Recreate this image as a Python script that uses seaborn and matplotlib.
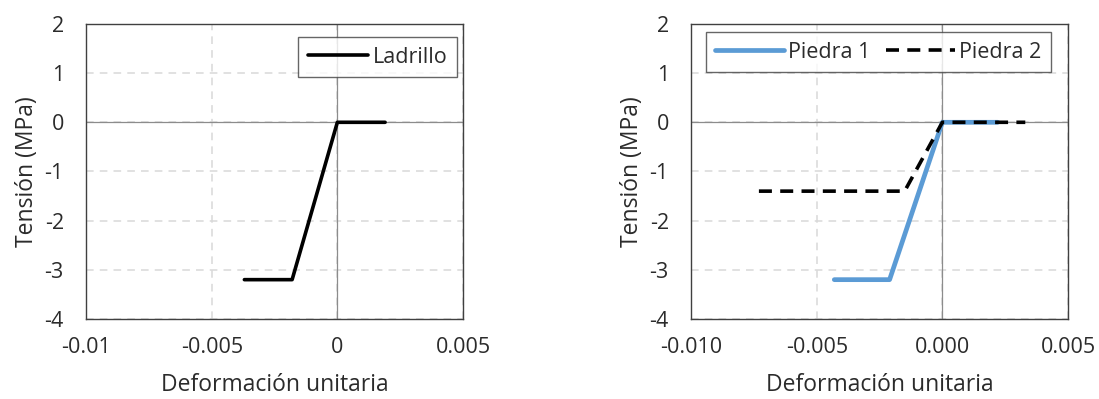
import matplotlib.pyplot as plt
import seaborn as sns
import pandas as pd

# data
ladrillo_x = [-0.0037, -0.0018, 0.0, 0.0019]
ladrillo_y = [-3.2, -3.2, 0.0, 0.0]

piedra1_x = [-0.0043, -0.0021, 0.0, 0.0022]
piedra1_y = [-3.2, -3.2, 0.0, 0.0]

piedra2_x = [-0.0073, -0.0015, 0.0, 0.0033]
piedra2_y = [-1.4, -1.4, 0.0, 0.0]

left_xticks = [-0.01, -0.005, 0, 0.005]
left_xlabels = ["-0.01", "-0.005", "0", "0.005"]
right_xticks = [-0.010, -0.005, 0.0, 0.005]
right_xlabels = ["-0.010", "-0.005", "0.000", "0.005"]
yticks = [2, 1, 0, -1, -2, -3, -4]

sns.set_theme(style="white")
plt.rcParams['font.family'] = ['Open Sans', 'DejaVu Sans']
plt.rcParams['axes.unicode_minus'] = False

txt = "#2b2b2b"
fig = plt.figure(figsize=(10.99, 3.99), dpi=100)
ax1 = fig.add_axes([0.0783, 0.2005, 0.343, 0.7395])
ax2 = fig.add_axes([0.6288, 0.2005, 0.343, 0.7395])

df_l = pd.DataFrame({"x": ladrillo_x, "y": ladrillo_y})
sns.lineplot(data=df_l, x="x", y="y", sort=False, color="black", lw=2.6,
             label="Ladrillo", ax=ax1, zorder=3)

df_p1 = pd.DataFrame({"x": piedra1_x, "y": piedra1_y})
df_p2 = pd.DataFrame({"x": piedra2_x, "y": piedra2_y})
sns.lineplot(data=df_p1, x="x", y="y", sort=False, color="#5B9BD5", lw=3.4,
             label="Piedra 1", ax=ax2, zorder=3)
sns.lineplot(data=df_p2, x="x", y="y", sort=False, color="black", lw=2.6,
             label="Piedra 2", ax=ax2, zorder=4)
ax2.lines[-1].set_dashes([3.6, 2.3])

for ax, ticks, labels in [(ax1, left_xticks, left_xlabels), (ax2, right_xticks, right_xlabels)]:
    ax.set_xlim(-0.01, 0.005)
    ax.set_ylim(-4, 2)
    ax.set_xticks(ticks)
    ax.set_xticklabels(labels)
    ax.set_yticks(yticks)
    ax.set_yticklabels([str(v) for v in yticks])
    ax.grid(True, color="#d9d9d9", linestyle=(0, (5, 4)), linewidth=1.1)
    ax.axhline(0, color="#8c8c8c", lw=0.9, zorder=2)
    ax.axvline(0, color="#8c8c8c", lw=0.9, zorder=2)
    for s in ax.spines.values():
        s.set_color("#404040")
        s.set_linewidth(1.0)
    ax.tick_params(axis="x", length=0, pad=13, labelsize=15.5, colors=txt)
    ax.tick_params(axis="y", length=0, pad=16, labelsize=15.5, colors=txt)
    ax.set_xlabel("Deformación unitaria", fontsize=16.5, color=txt, labelpad=11)
    ax.set_ylabel("Tensión (MPa)", fontsize=16.5, color=txt, labelpad=4)

leg1 = ax1.legend(loc="upper right", bbox_to_anchor=(0.984, 0.956), fontsize=15.5,
                  frameon=True, fancybox=False, edgecolor="#404040", handlelength=2.8,
                  handletextpad=0.2, borderaxespad=0, borderpad=0.45, labelcolor=txt)
leg1.get_frame().set_linewidth(1.0)
leg2 = ax2.legend(loc="upper right", bbox_to_anchor=(0.955, 0.973), ncol=2, fontsize=15.5,
                  frameon=True, fancybox=False, edgecolor="#404040", handlelength=3.2,
                  columnspacing=0.7, handletextpad=0.2, borderaxespad=0, borderpad=0.45,
                  labelcolor=txt)
leg2.get_frame().set_linewidth(1.0)

fig.savefig("out.png", dpi=100)
